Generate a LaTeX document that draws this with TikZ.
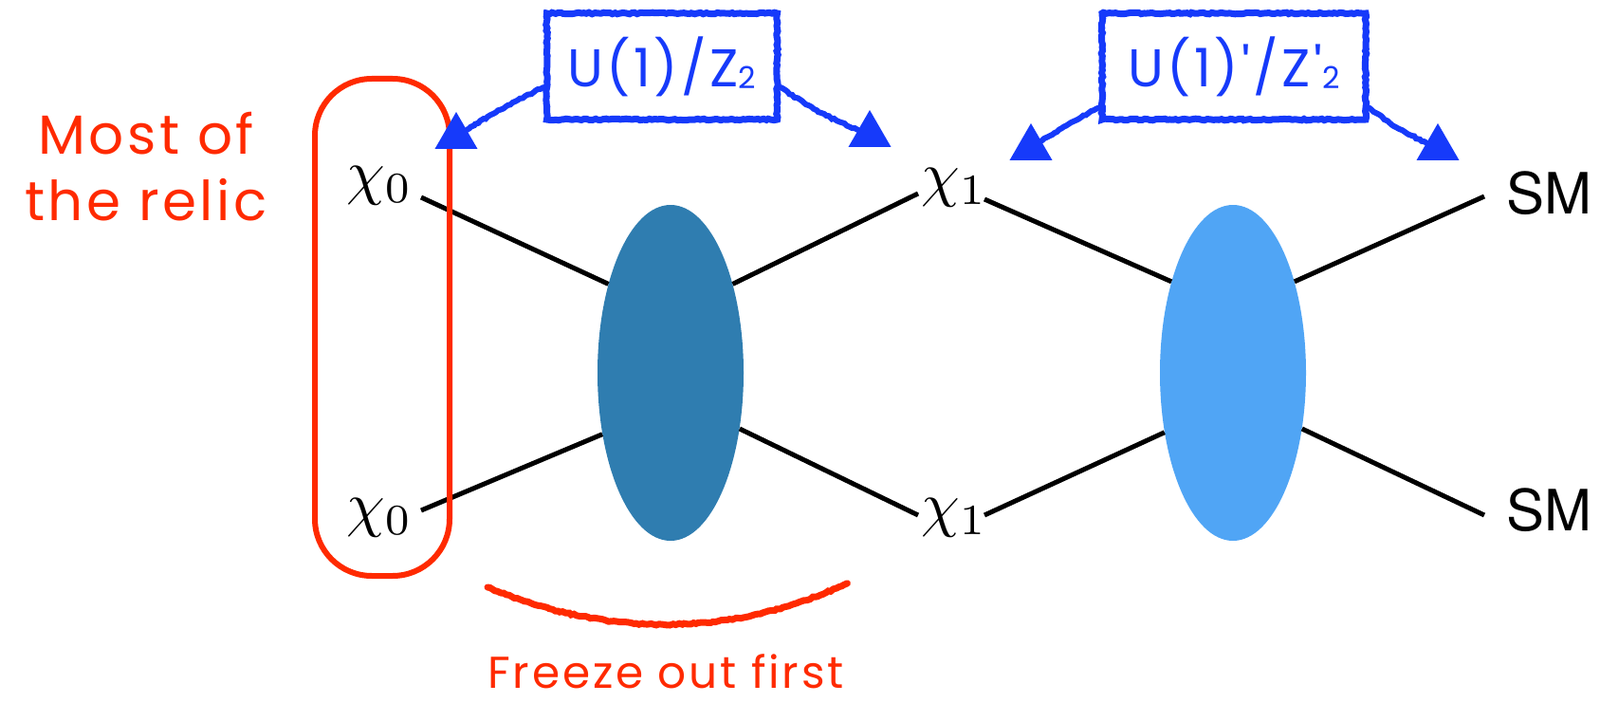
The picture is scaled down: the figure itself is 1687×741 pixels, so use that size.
\documentclass[tikz,border=0pt]{standalone}
\usepackage{graphicx}
\usepackage{fontspec}
\newfontfamily\hand[LetterSpace=6]{Poppins}
\newfontfamily\helv{TeX Gyre Heros}
\usetikzlibrary{shapes.geometric,decorations.pathmorphing}
\definecolor{chred}{RGB}{255,42,0}
\definecolor{chblue}{RGB}{22,58,250}
\definecolor{dmblue}{RGB}{47,125,176}
\definecolor{smblue}{RGB}{80,165,245}
\newcommand{\bigmath}[1]{\scalebox{6.5}{$#1$}}
\begin{document}
\begin{tikzpicture}[x=1pt,y=-1pt,
  leg/.style={line width=5pt,black},
  blob/.style={ellipse,minimum width=154pt,minimum height=354pt,inner sep=0pt},
  part/.style={inner sep=0pt},
  smlab/.style={font=\helv\fontsize{60}{66}\selectfont,inner sep=0pt},
  chalk/.style={decorate,decoration={random steps,segment length=3pt,amplitude=0.8pt}},
  redtxt/.style={text=chred,font=\hand\fontsize{58}{70}\selectfont,align=center,inner sep=0pt},
  redline/.style={text=chred,font=\hand\fontsize{47}{50}\selectfont,inner sep=0pt},
  bluebox/.style={draw=chblue,line width=7pt,rectangle,minimum height=112pt,inner sep=0pt,
     text=chblue,font=\hand\fontsize{56}{60}\selectfont},
  tri/.style={regular polygon,regular polygon sides=3,minimum size=52pt,inner sep=0pt,fill=chblue},
  barrow/.style={draw=chblue,line width=6pt,line cap=round}
]
\useasboundingbox (0,0) rectangle (1687,741);

% blobs
\node[blob,fill=dmblue] (e1) at (707,393) {};
\node[blob,fill=smblue] (e2) at (1300,393) {};

% particles
\node[part] (c0t) at (400,196) {\bigmath{\chi_0}};
\node[part] (c0b) at (400,546) {\bigmath{\chi_0}};
\node[part] (c1t) at (1006,198) {\bigmath{\chi_1}};
\node[part] (c1b) at (1006,546) {\bigmath{\chi_1}};
\node[smlab] (smt) at (1633,204) {SM};
\node[smlab] (smb) at (1633,538) {SM};

% free ends of legs
\coordinate (a1) at (444,208);
\coordinate (a2) at (444,538);
\coordinate (a3) at (968,204);
\coordinate (a4) at (968,543);
\coordinate (a5) at (1038,210);
\coordinate (a6) at (1038,543);
\coordinate (a7) at (1565,207);
\coordinate (a8) at (1565,543);

\draw[leg] (a1) -- (e1.125);
\draw[leg] (a2) -- (e1.222);
\draw[leg] (e1.55) -- (a3);
\draw[leg] (e1.-39) -- (a4);
\draw[leg] (a5) -- (e2.124);
\draw[leg] (a6) -- (e2.221);
\draw[leg] (e2.56) -- (a7);
\draw[leg] (e2.-39) -- (a8);

% red annotations
\node[draw=chred,line width=6pt,rounded corners=60pt,minimum width=142pt,minimum height=524pt,
      inner sep=0pt] (relic) at (403,345) {};
\node[redtxt] (most) at (154,176) {Most of\\the relic};
\coordinate (fl) at (514,619);
\coordinate (fr) at (893,615);
\draw[draw=chred,line width=7pt,line cap=round,chalk] (fl) .. controls (640,672) and (770,672) .. (fr);
\node[redline] (freeze) at (702,708) {Freeze out first};

% blue annotations
\node[bluebox,minimum width=243pt,chalk] (b1) at (698,70) {U(1)/Z\raisebox{-2pt}{\fontsize{32}{34}\selectfont 2}};
\node[bluebox,minimum width=278pt,chalk] (b2) at (1301,70) {U(1)'/Z'\raisebox{-2pt}{\fontsize{32}{34}\selectfont 2}};

\node[tri] (t1) at (481,144) {};
\node[tri] (t2) at (917,142) {};
\node[tri] (t3) at (1087,156) {};
\node[tri] (t4) at (1516,156) {};

\draw[barrow,chalk] (b1.190) to[bend right=3] (t1);
\draw[barrow,chalk] (b1.-10) to[bend right=6] (t2);
\draw[barrow,chalk] (b2.197) to[bend right=3] (t3);
\draw[barrow,chalk] (b2.-17) to[bend right=6] (t4);
\end{tikzpicture}
\end{document}
